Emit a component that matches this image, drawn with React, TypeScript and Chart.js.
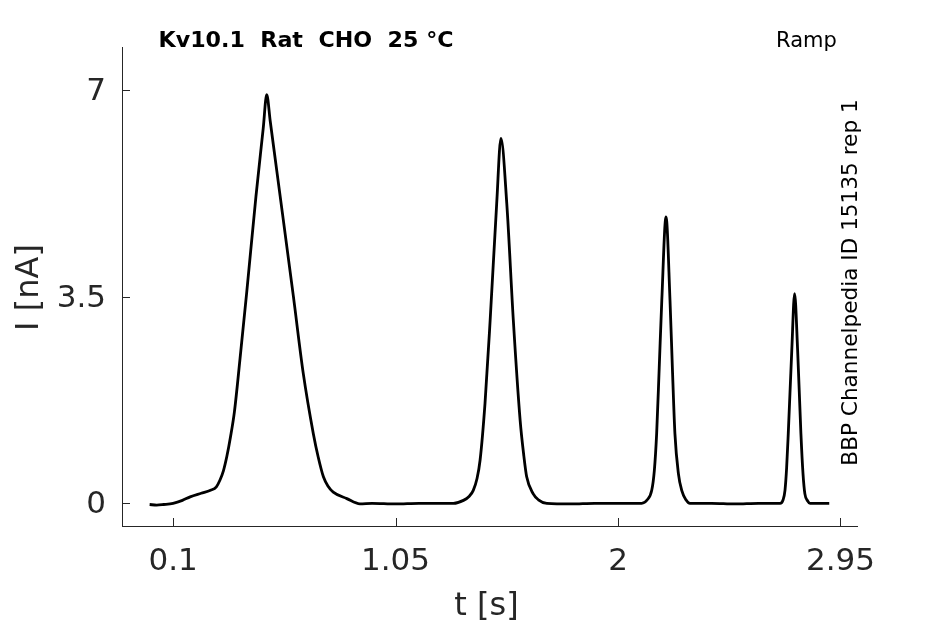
import React, { useEffect, useRef } from "react";
import { Chart, registerables } from "chart.js";

Chart.register(...registerables);

// ---- data ----
const timeS: number[] = [
  0.0, 0.03, 0.06, 0.1, 0.14, 0.173, 0.22, 0.26, 0.285, 0.3, 0.315, 0.33, 0.345, 0.362, 0.386,
  0.414, 0.454, 0.485, 0.5, 0.515, 0.543, 0.614, 0.656, 0.699, 0.72, 0.742, 0.762, 0.784, 0.842,
  0.898, 0.95, 1.05, 1.15, 1.25, 1.297, 1.34, 1.365, 1.382, 1.398, 1.411, 1.432, 1.454, 1.482,
  1.5, 1.525, 1.553, 1.582, 1.598, 1.61, 1.638, 1.66, 1.696, 1.8, 1.9, 2.0, 2.101, 2.125, 2.144,
  2.155, 2.165, 2.176, 2.187, 2.205, 2.222, 2.233, 2.243, 2.258, 2.272, 2.29, 2.307, 2.4, 2.5,
  2.6, 2.692, 2.705, 2.713, 2.72, 2.727, 2.742, 2.754, 2.767, 2.781, 2.79, 2.798, 2.81, 2.82,
  2.86, 2.902,
];
const currentNA: number[] = [
  -0.02, -0.03, -0.02, 0.0, 0.05, 0.11, 0.17, 0.22, 0.28, 0.39, 0.55, 0.8, 1.12, 1.55, 2.45,
  3.55, 5.2, 6.35, 6.92, 6.47, 5.63, 3.5, 2.2, 1.18, 0.78, 0.45, 0.29, 0.19, 0.08,
  -0.01, 0.0, -0.01, 0.0, 0.0, 0.0, 0.05, 0.12, 0.22, 0.42, 0.73, 1.69, 3.1, 5.08,
  6.18, 5.08, 3.1, 1.41, 0.8, 0.45, 0.16, 0.06, 0.0, -0.01, 0.0, 0.0, 0.0, 0.06, 0.22,
  0.55, 1.18, 2.3, 3.44, 4.85, 3.44, 2.2, 1.18, 0.5, 0.22, 0.06, 0.0, 0.0, -0.01,
  0.0, 0.0, 0.06, 0.22, 0.6, 1.18, 2.59, 3.55, 2.59, 1.18, 0.5, 0.16, 0.04, 0.0,
  0.0, 0.0,
];
const xTicks: number[] = [0.1, 1.05, 2, 2.95];
const yTicks: number[] = [0, 3.5, 7];
const titleText = "Kv10.1  Rat  CHO  25 \u00b0C";
const protocolText = "Ramp";
const sideText = "BBP Channelpedia ID 15135 rep 1";
const xTitle = "t [s]";
const yTitle = "I [nA]";

const FONT = "'DejaVu Sans', sans-serif";
const INK = "#262626";

const decorPlugin = {
  id: "decor",
  afterDraw(chart: any) {
    const { ctx, chartArea, scales } = chart;
    const xs = scales.x;
    const ys = scales.y;
    ctx.save();
    // inward tick marks
    ctx.strokeStyle = INK;
    ctx.lineWidth = 1;
    ctx.beginPath();
    for (const v of xTicks) {
      const px = Math.round(xs.getPixelForValue(v)) + 0.5;
      ctx.moveTo(px, chartArea.bottom);
      ctx.lineTo(px, chartArea.bottom - 8);
    }
    for (const v of yTicks) {
      const py = Math.round(ys.getPixelForValue(v)) + 0.5;
      ctx.moveTo(chartArea.left, py);
      ctx.lineTo(chartArea.left + 8, py);
    }
    ctx.stroke();

    // title (stretched to the reference width)
    ctx.fillStyle = "#000";
    ctx.textBaseline = "alphabetic";
    ctx.textAlign = "left";
    ctx.font = `bold 21px ${FONT}`;
    const w = ctx.measureText(titleText).width;
    ctx.save();
    ctx.translate(158.5, 46.5);
    ctx.scale(295 / w, 1);
    ctx.fillText(titleText, 0, 0);
    ctx.restore();
    ctx.font = `21px ${FONT}`;
    ctx.fillText(protocolText, 776, 46.5);

    // side label (rotated)
    ctx.save();
    ctx.font = `21.6px ${FONT}`;
    ctx.translate(857, 282.5);
    ctx.rotate(-Math.PI / 2);
    ctx.textAlign = "center";
    ctx.fillText(sideText, 0, 0);
    ctx.restore();

    // axis titles
    ctx.fillStyle = INK;
    ctx.font = `32px ${FONT}`;
    ctx.textAlign = "center";
    ctx.fillText(xTitle, 486.5, 615);
    ctx.save();
    ctx.translate(37.5, 287.5);
    ctx.rotate(-Math.PI / 2);
    ctx.fillText(yTitle, 0, 0);
    ctx.restore();
    ctx.restore();
  },
};

export default function App() {
  const ref = useRef<HTMLCanvasElement | null>(null);
  useEffect(() => {
    document.body.style.margin = "0";
    const canvas = ref.current;
    if (!canvas) return;
    const points = timeS.map((t, i) => ({ x: t, y: currentNA[i] }));
    const chart = new Chart(canvas, {
      type: "line",
      data: {
        datasets: [
          {
            data: points,
            borderColor: "#000",
            borderWidth: 2.8,
            pointRadius: 0,
            fill: false,
            cubicInterpolationMode: "monotone",
          },
        ],
      },
      options: {
        animation: false,
        responsive: false,
        maintainAspectRatio: false,
        devicePixelRatio: 1,
        layout: { padding: { left: 0, right: 88, top: 47, bottom: 0 } },
        plugins: { legend: { display: false }, tooltip: { enabled: false }, title: { display: false } },
        scales: {
          x: {
            type: "linear",
            min: -0.118,
            max: 3.0205,
            afterBuildTicks: (s: any) => {
              s.ticks = xTicks.map((v) => ({ value: v }));
            },
            afterFit: (s: any) => {
              s.height = 98;
            },
            grid: { display: false, drawTicks: false },
            border: { display: true, color: INK, width: 1 },
            ticks: {
              color: INK,
              font: { family: FONT, size: 31 },
              padding: 17,
              maxRotation: 0,
              autoSkip: false,
              callback: (v: any) => String(v),
            },
          },
          y: {
            type: "linear",
            min: -0.384,
            max: 7.728,
            afterBuildTicks: (s: any) => {
              s.ticks = yTicks.map((v) => ({ value: v }));
            },
            afterFit: (s: any) => {
              s.width = 122;
            },
            grid: { display: false, drawTicks: false },
            border: { display: true, color: INK, width: 1 },
            ticks: {
              color: INK,
              font: { family: FONT, size: 31 },
              padding: 16,
              labelOffset: 2,
              autoSkip: false,
              callback: (v: any) => String(v),
            },
          },
        },
      },
      plugins: [decorPlugin],
    });
    return () => chart.destroy();
  }, []);
  return (
    <div style={{ position: "fixed", left: 0, top: 0, width: 945, height: 624, background: "#fff" }}>
      <canvas ref={ref} width={945} height={624} style={{ width: 945, height: 624 }} />
    </div>
  );
}
